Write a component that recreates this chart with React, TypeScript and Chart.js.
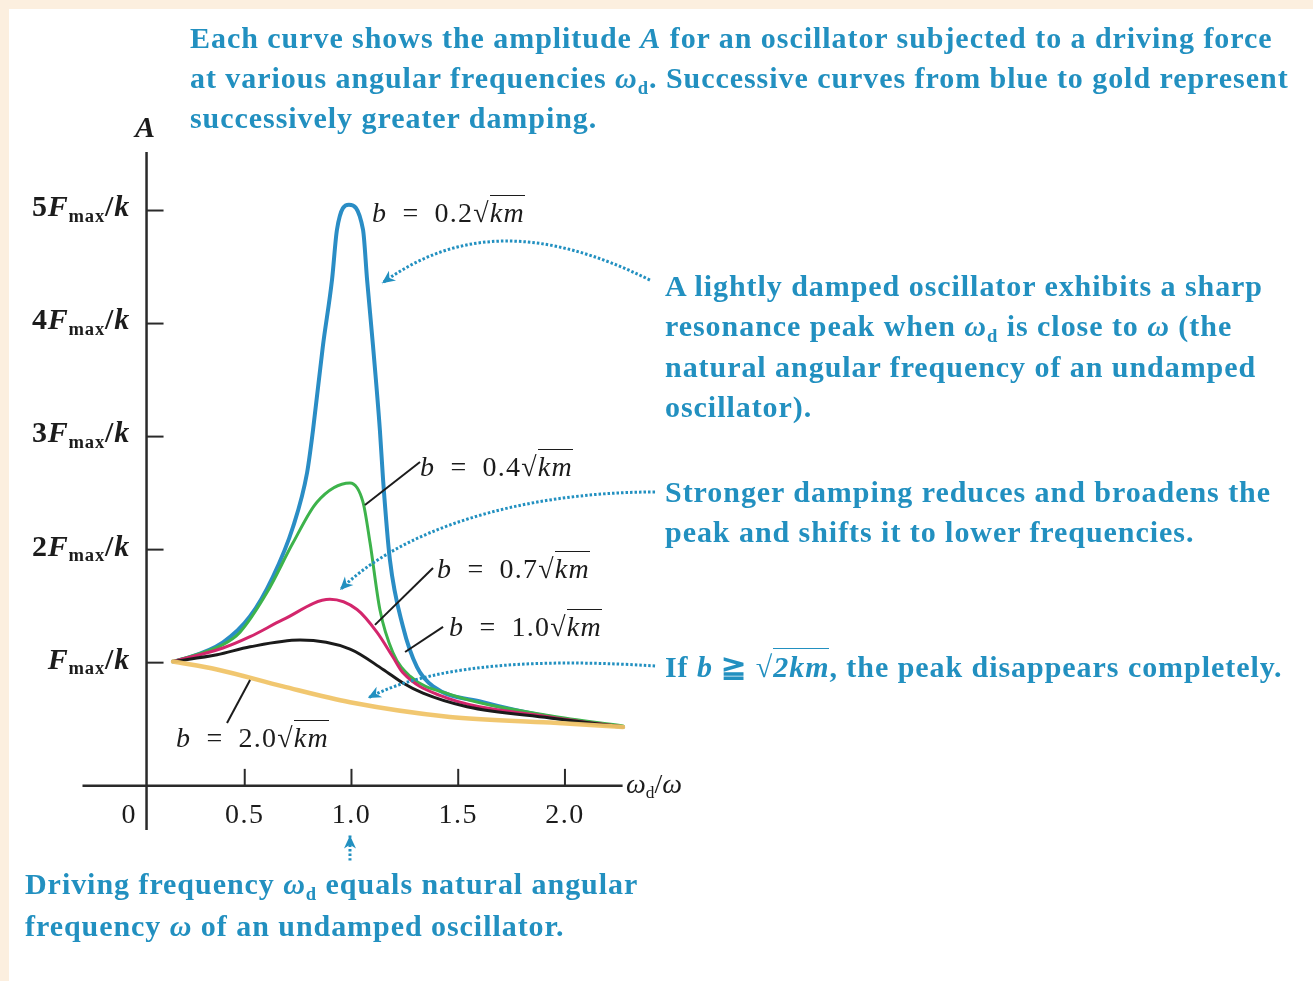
import React, { useEffect, useRef, useState } from "react";
import { Chart, registerables } from "chart.js";

Chart.register(...registerables);

// ---- Data ----
// x = ωd/ω, y = A in units of Fmax/k
const xB02 = [0.164, 0.211, 0.398, 0.525, 0.632, 0.726, 0.792, 0.82, 0.866, 0.909, 0.932, 0.988, 1.054, 1.073, 1.101, 1.133, 1.148, 1.18, 1.241, 1.307, 1.382, 1.616, 1.93, 2.272];
const yB02 = [1.01, 1.03, 1.18, 1.41, 1.76, 2.2, 2.68, 3.06, 3.8, 4.39, 4.83, 5.05, 4.83, 4.39, 3.8, 3.06, 2.62, 1.91, 1.32, 0.96, 0.79, 0.65, 0.52, 0.43];

const xB04 = [0.164, 0.398, 0.478, 0.604, 0.726, 0.838, 0.993, 1.054, 1.087, 1.133, 1.194, 1.274, 1.461, 1.93, 2.272];
const yB04 = [1.01, 1.16, 1.27, 1.62, 2.06, 2.42, 2.59, 2.42, 2.06, 1.47, 1.09, 0.88, 0.72, 0.53, 0.44];

const xB07 = [0.164, 0.398, 0.525, 0.679, 0.899, 1.026, 1.119, 1.194, 1.241, 1.414, 1.93, 2.272];
const yB07 = [1.01, 1.13, 1.23, 1.38, 1.56, 1.47, 1.27, 1.05, 0.91, 0.71, 0.52, 0.43];

const xB10 = [0.164, 0.37, 0.525, 0.759, 0.993, 1.148, 1.241, 1.335, 1.541, 1.93, 2.272];
const yB10 = [1.01, 1.07, 1.14, 1.2, 1.12, 0.94, 0.82, 0.73, 0.61, 0.51, 0.43];

const xB20 = [0.164, 0.37, 0.679, 0.993, 1.461, 1.93, 2.272];
const yB20 = [1.01, 0.94, 0.79, 0.65, 0.52, 0.47, 0.43];

const xTickValues = [0.5, 1.0, 1.5, 2.0];
const xTickLabels = ["0.5", "1.0", "1.5", "2.0"];
const yTickValues = [1, 2, 3, 4, 5];
const yTickPrefixes = ["", "2", "3", "4", "5"];

const X_MIN = 0;
const X_MAX = 2.3;
const Y_MIN = -0.1;
const Y_MAX = 5.5;
const Y_AXIS_AT = 0.04; // x value where the vertical axis is drawn
const X_AXIS_AT = -0.09; // y value where the horizontal axis is drawn

const SERIF = '"Liberation Serif", "Times New Roman", serif';
const TEAL = "#2290c0";
const INK = "#1c1c1c";

const toPts = (xs: number[], ys: number[]) => xs.map((x, i) => ({ x, y: ys[i] }));

// annotation geometry in data units
const leaders: number[][] = [
  [1.063, 2.395, 1.321, 2.775],
  [1.11, 1.334, 1.382, 1.838],
  [1.251, 1.094, 1.429, 1.316],
  [0.525, 0.847, 0.417, 0.466],
];
const dottedArrows: number[][][] = [
  [[2.398, 4.385], [1.9, 4.85], [1.5, 4.85], [1.143, 4.356]],
  [[2.422, 2.51], [1.789, 2.51], [1.227, 2.174], [0.946, 1.643]],
  [[2.422, 0.971], [1.977, 1.024], [1.415, 1.024], [1.077, 0.687]],
  [[0.993, -0.75], [0.993, -0.7], [0.993, -0.6], [0.993, -0.53]],
];

const overlayPlugin = {
  id: "overlay",
  beforeDatasetsDraw(chart: any) {
    const { ctx } = chart;
    const X = (v: number) => chart.scales.x.getPixelForValue(v);
    const Y = (v: number) => chart.scales.y.getPixelForValue(v);
    const line = (a: number, b: number, c: number, d: number) => {
      ctx.beginPath();
      ctx.moveTo(a, b);
      ctx.lineTo(c, d);
      ctx.stroke();
    };
    ctx.save();
    ctx.strokeStyle = "#2a2a2a";
    ctx.lineWidth = 2.5;
    line(X(Y_AXIS_AT), Y(5.5) - 2, X(Y_AXIS_AT), Y(-0.48));
    line(X(-0.26), Y(X_AXIS_AT), X(2.27), Y(X_AXIS_AT));
    ctx.lineWidth = 2;
    yTickValues.forEach((v) => line(X(Y_AXIS_AT), Y(v), X(Y_AXIS_AT) + 17, Y(v)));
    xTickValues.forEach((v) => line(X(v), Y(X_AXIS_AT), X(v), Y(X_AXIS_AT) - 17));
    ctx.restore();
  },
  afterDatasetsDraw(chart: any) {
    const { ctx } = chart;
    const X = (v: number) => chart.scales.x.getPixelForValue(v);
    const Y = (v: number) => chart.scales.y.getPixelForValue(v);
    ctx.save();
    ctx.strokeStyle = INK;
    ctx.lineWidth = 2;
    leaders.forEach(([a, b, c, d]) => {
      ctx.beginPath();
      ctx.moveTo(X(a), Y(b));
      ctx.lineTo(X(c), Y(d));
      ctx.stroke();
    });
    ctx.strokeStyle = TEAL;
    ctx.fillStyle = TEAL;
    dottedArrows.forEach((pts) => {
      const p = pts.map(([a, b]) => [X(a), Y(b)]);
      ctx.lineWidth = 3;
      ctx.setLineDash([2.5, 2]);
      ctx.beginPath();
      ctx.moveTo(p[0][0], p[0][1]);
      ctx.bezierCurveTo(p[1][0], p[1][1], p[2][0], p[2][1], p[3][0], p[3][1]);
      ctx.stroke();
      ctx.setLineDash([]);
      const ang = Math.atan2(p[3][1] - p[2][1], p[3][0] - p[2][0]);
      const L = 13, W = 6;
      const tx = p[3][0], ty = p[3][1];
      ctx.beginPath();
      ctx.moveTo(tx, ty);
      ctx.lineTo(tx - L * Math.cos(ang) + W * Math.sin(ang), ty - L * Math.sin(ang) - W * Math.cos(ang));
      ctx.lineTo(tx - L * 0.7 * Math.cos(ang), ty - L * 0.7 * Math.sin(ang));
      ctx.lineTo(tx - L * Math.cos(ang) - W * Math.sin(ang), ty - L * Math.sin(ang) + W * Math.cos(ang));
      ctx.closePath();
      ctx.fill();
    });
    ctx.restore();
  },
};

type TxtProps = {
  x: number;
  b: number;
  size?: number;
  color?: string;
  weight?: number;
  italic?: boolean;
  anchor?: "start" | "middle" | "end";
  spacing?: number;
  children: React.ReactNode;
};

function Txt({ x, b, size = 28, color = INK, weight = 400, italic = false, anchor = "start", spacing = 0, children }: TxtProps) {
  return (
    <div
      style={{
        position: "absolute",
        left: x,
        top: b - 0.8375 * size,
        fontSize: size,
        lineHeight: `${size}px`,
        fontFamily: SERIF,
        color,
        fontWeight: weight,
        fontStyle: italic ? "italic" : "normal",
        whiteSpace: "nowrap",
        letterSpacing: spacing,
        transform: anchor === "end" ? "translateX(-100%)" : anchor === "middle" ? "translateX(-50%)" : undefined,
      }}
    >
      {children}
    </div>
  );
}

const Sub = ({ children }: { children: React.ReactNode }) => (
  <span style={{ fontSize: "0.62em", position: "relative", top: "0.32em" }}>{children}</span>
);
const Rad = ({ children }: { children: React.ReactNode }) => (
  <span>
    √<span style={{ borderTop: "1.5px solid currentColor", paddingTop: 1, fontStyle: "italic" }}>{children}</span>
  </span>
);
const BLabel = ({ v }: { v: string }) => (
  <span>
    <i>b</i>
    {"\u2002=\u2002"}
    {v}
    <Rad>km</Rad>
  </span>
);

export default function App() {
  const canvasRef = useRef<HTMLCanvasElement | null>(null);
  const [pos, setPos] = useState<{ xt: number[]; yt: number[]; x0: number; xa: number } | null>(null);

  useEffect(() => {
    const canvas = canvasRef.current;
    if (!canvas) return;
    const mk = (label: string, xs: number[], ys: number[], color: string, w: number) => ({
      label,
      data: toPts(xs, ys),
      borderColor: color,
      backgroundColor: color,
      borderWidth: w,
      showLine: true,
      pointRadius: 0,
      cubicInterpolationMode: "monotone" as const,
      borderCapStyle: "round" as const,
    });
    const chart = new Chart(canvas, {
      type: "scatter",
      data: {
        datasets: [
          mk("b = 2.0√km", xB20, yB20, "rgba(240,196,104,0.95)", 4.5),
          mk("b = 1.0√km", xB10, yB10, "#1b1b1b", 3),
          mk("b = 0.7√km", xB07, yB07, "#d3266c", 3),
          mk("b = 0.4√km", xB04, yB04, "#3db34b", 3),
          mk("b = 0.2√km", xB02, yB02, "#2a8dc5", 4),
        ],
      },
      options: {
        animation: false,
        responsive: false,
        events: [],
        layout: { padding: { left: 138, right: 684, top: 154, bottom: 194 } },
        scales: {
          x: { type: "linear", min: X_MIN, max: X_MAX, display: false },
          y: { type: "linear", min: Y_MIN, max: Y_MAX, display: false },
        },
        plugins: { legend: { display: false }, tooltip: { enabled: false } },
      },
      plugins: [overlayPlugin],
    });
    const xs = chart.scales.x;
    const ys = chart.scales.y;
    setPos({
      xt: xTickValues.map((v) => xs.getPixelForValue(v)),
      yt: yTickValues.map((v) => ys.getPixelForValue(v)),
      x0: xs.getPixelForValue(Y_AXIS_AT),
      xa: ys.getPixelForValue(X_AXIS_AT),
    });
    return () => chart.destroy();
  }, []);

  const teal = { color: TEAL, weight: 700, size: 30, spacing: 0.95 };
  const lab = { size: 28, spacing: 1.2 };

  return (
    <div style={{ position: "absolute", left: 0, top: 0, width: 1313, height: 981, background: "#fcefdf", overflow: "hidden" }}>
      <div style={{ position: "absolute", left: 9, top: 9, right: 0, bottom: 0, background: "#ffffff" }} />
      <canvas ref={canvasRef} width={1313} height={981} style={{ position: "absolute", left: 0, top: 0 }} />

      {/* top caption */}
      <Txt x={190} b={48} {...teal}>
        Each curve shows the amplitude <i>A</i> for an oscillator subjected to a driving force
      </Txt>
      <Txt x={190} b={88} {...teal}>
        at various angular frequencies <i>ω</i><Sub>d</Sub>. Successive curves from blue to gold represent
      </Txt>
      <Txt x={190} b={128} {...teal}>
        successively greater damping.
      </Txt>

      {/* axis title */}
      <Txt x={135} b={137} size={30} weight={700} italic>
        A
      </Txt>

      {/* y tick labels */}
      {pos &&
        pos.yt.map((py, i) => (
          <Txt key={"y" + i} x={130} b={py + 6} size={30} weight={700} spacing={0.8} anchor="end">
            {yTickPrefixes[i]}
            <i>F</i>
            <Sub>max</Sub>/<i>k</i>
          </Txt>
        ))}

      {/* x tick labels */}
      {pos &&
        pos.xt.map((px, i) => (
          <Txt key={"x" + i} x={px} b={823} size={28} spacing={1.5} anchor="middle">
            {xTickLabels[i]}
          </Txt>
        ))}
      {pos && (
        <Txt x={pos.x0 - 18} b={823} size={28} anchor="middle">
          0
        </Txt>
      )}
      <Txt x={626} b={793} size={28}>
        <i>ω</i>
        <Sub>d</Sub>/<i>ω</i>
      </Txt>

      {/* curve labels */}
      <Txt x={372} b={222} {...lab}>
        <BLabel v="0.2" />
      </Txt>
      <Txt x={420} b={476} {...lab}>
        <BLabel v="0.4" />
      </Txt>
      <Txt x={437} b={578} {...lab}>
        <BLabel v="0.7" />
      </Txt>
      <Txt x={449} b={636} {...lab}>
        <BLabel v="1.0" />
      </Txt>
      <Txt x={176} b={747} {...lab}>
        <BLabel v="2.0" />
      </Txt>

      {/* right annotations */}
      <Txt x={665} b={296} {...teal}>A lightly damped oscillator exhibits a sharp</Txt>
      <Txt x={665} b={336} {...teal}>
        resonance peak when <i>ω</i><Sub>d</Sub> is close to <i>ω</i> (the
      </Txt>
      <Txt x={665} b={377} {...teal}>natural angular frequency of an undamped</Txt>
      <Txt x={665} b={417} {...teal}>oscillator).</Txt>

      <Txt x={665} b={502} {...teal}>Stronger damping reduces and broadens the</Txt>
      <Txt x={665} b={542} {...teal}>peak and shifts it to lower frequencies.</Txt>

      <Txt x={665} b={677} {...teal}>
        If <i>b</i> ≧ <Rad>2km</Rad>, the peak disappears completely.
      </Txt>

      {/* bottom annotation */}
      <Txt x={25} b={894} {...teal}>
        Driving frequency <i>ω</i><Sub>d</Sub> equals natural angular
      </Txt>
      <Txt x={25} b={936} {...teal}>
        frequency <i>ω</i> of an undamped oscillator.
      </Txt>
    </div>
  );
}
